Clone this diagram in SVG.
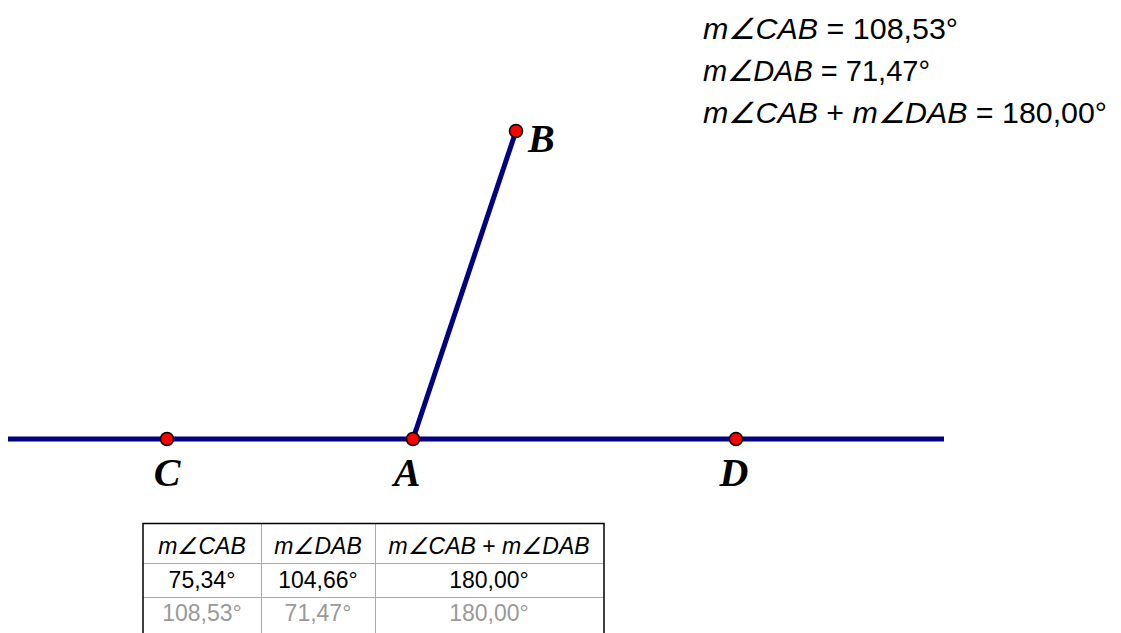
<svg xmlns="http://www.w3.org/2000/svg" width="1121" height="633" viewBox="0 0 1121 633">
<style>
.ln{stroke:#000080;stroke-width:5;fill:none}
.pt{fill:#ff0000;stroke:#000;stroke-width:1.5}
.lbl{font-family:"Liberation Serif",serif;font-weight:bold;font-style:italic;font-size:40px;fill:#000}
.meas{font-family:"Liberation Sans",Arial,sans-serif;font-size:29px;fill:#000}
.tb{font-family:"Liberation Sans",Arial,sans-serif;font-size:23px;text-anchor:middle}
.it{font-style:italic}
.grid{stroke:#aaaaaa;stroke-width:1;fill:none}
.frame{stroke:#000;stroke-width:1.5;fill:none}
</style>
<rect width="1121" height="633" fill="#fff"/>
<g id="connectors">
<line class="ln" x1="8" y1="439" x2="944" y2="439"/>
<line class="ln" x1="413" y1="439" x2="516" y2="131"/>
</g>
<g id="pointB"><circle class="pt" cx="516" cy="131" r="6.5"/><text class="lbl" x="528" y="152">B</text></g>
<g id="pointC"><circle class="pt" cx="167" cy="439" r="6.5"/><text class="lbl" x="167" y="486" text-anchor="middle">C</text></g>
<g id="pointA"><circle class="pt" cx="413" cy="439" r="6.5"/><text class="lbl" x="407" y="486" text-anchor="middle">A</text></g>
<g id="pointD"><circle class="pt" cx="736" cy="439" r="6.5"/><text class="lbl" x="734" y="486" text-anchor="middle">D</text></g>
<g id="measurements" class="meas">
<text x="703" y="39" textLength="255" lengthAdjust="spacingAndGlyphs"><tspan class="it">m∠CAB</tspan> = 108,53°</text>
<text x="703" y="81" textLength="227" lengthAdjust="spacingAndGlyphs"><tspan class="it">m∠DAB</tspan> = 71,47°</text>
<text x="703" y="123" textLength="404" lengthAdjust="spacingAndGlyphs"><tspan class="it">m∠CAB</tspan> + <tspan class="it">m∠DAB</tspan> = 180,00°</text>
</g>
<g id="table">
<rect x="143" y="523" width="461" height="120" fill="#fff"/>
<line class="grid" x1="143" y1="563.5" x2="604" y2="563.5"/>
<line class="grid" x1="143" y1="597.5" x2="604" y2="597.5"/>
<line class="grid" x1="261.5" y1="523" x2="261.5" y2="633"/>
<line class="grid" x1="375.5" y1="523" x2="375.5" y2="633"/>
<polyline class="frame" points="143,633 143,523.5 604,523.5 604,633"/>
<text class="tb it" x="202" y="554" fill="#000">m∠CAB</text>
<text class="tb it" x="318" y="554" fill="#000">m∠DAB</text>
<text class="tb" x="489" y="554" fill="#000"><tspan class="it">m∠CAB</tspan> + <tspan class="it">m∠DAB</tspan></text>
<text class="tb" x="202" y="588" fill="#000">75,34°</text>
<text class="tb" x="318" y="588" fill="#000">104,66°</text>
<text class="tb" x="489" y="588" fill="#000">180,00°</text>
<text class="tb" x="202" y="621" fill="#999">108,53°</text>
<text class="tb" x="318" y="621" fill="#999">71,47°</text>
<text class="tb" x="489" y="621" fill="#999">180,00°</text>
</g>
</svg>
